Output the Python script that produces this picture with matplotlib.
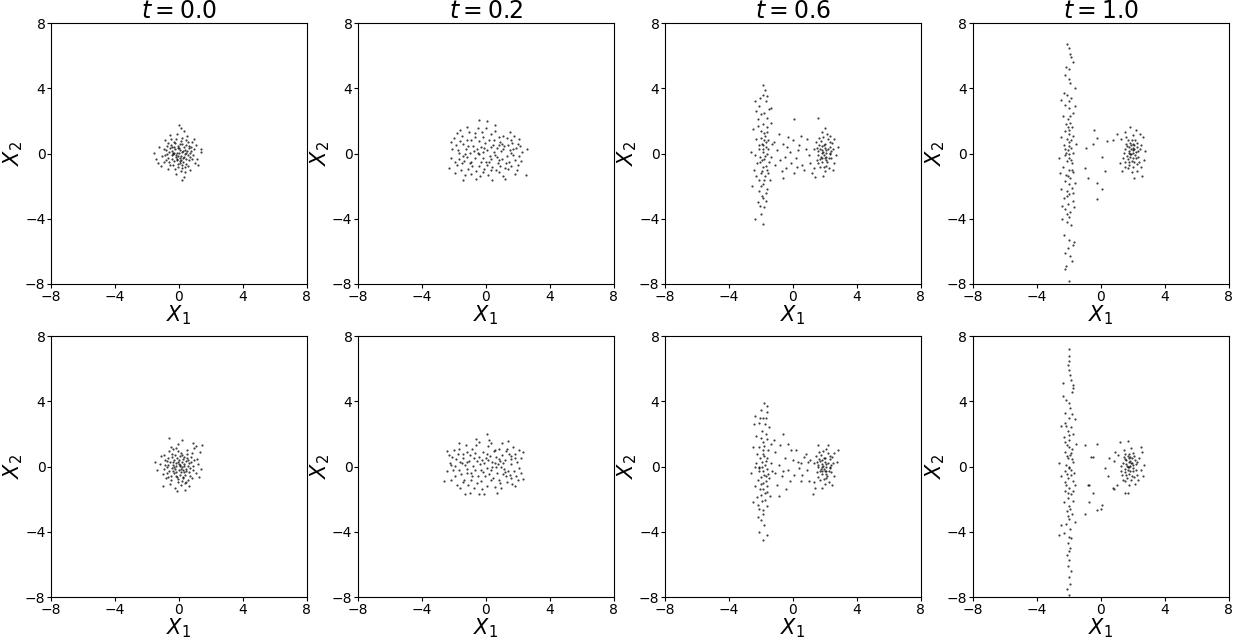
import numpy as np
import matplotlib
matplotlib.use('Agg')
import matplotlib.pyplot as plt

# Χρόνοι και θέσεις σημείων (X1, X2) για κάθε γράφημα, διαβασμένα από την εικόνα
times = [0.0, 0.2, 0.6, 1.0]
ticks = [-8, -4, 0, 4, 8]

top_t00 = np.array([
    (-0.12, 0.05), (0.31, -0.22), (-0.45, 0.38), (0.08, 0.61), (0.52, 0.14), (-0.67, -0.29), (0.19, -0.71), (-0.28, -0.48), (0.74, 0.42), (-0.05, -0.15),
    (0.41, 0.83), (-0.83, 0.21), (0.02, 0.33), (-0.36, 0.02), (0.63, -0.41), (-0.54, -0.72), (0.27, 0.18), (-0.18, 0.91), (0.88, -0.09), (-0.95, -0.55),
    (0.13, -0.38), (-0.22, -0.95), (0.47, 0.51), (-0.71, 0.64), (0.36, -0.05), (-0.09, 0.47), (0.58, -0.78), (-0.42, -0.12), (0.95, 0.27), (-0.31, 0.72),
    (0.06, -0.58), (-0.61, 0.11), (0.22, 0.95), (-1.08, -0.18), (0.69, 0.06), (-0.15, -0.33), (0.33, 0.39), (-0.48, 0.55), (1.12, -0.31), (0.11, -1.05),
    (-0.26, 0.26), (0.44, -0.62), (-0.79, -0.41), (0.17, 0.12), (-0.03, -0.82), (0.81, 0.68), (-0.57, 0.35), (0.28, -0.27), (-1.25, 0.42), (0.52, 1.05),
    (-0.38, -0.68), (0.04, 0.19), (0.62, 0.31), (-0.19, -0.21), (0.99, -0.58), (-0.88, 0.82), (0.38, -1.12), (-0.11, 1.22), (0.71, -0.19), (-0.66, -0.92),
    (0.21, 0.58), (-0.44, -0.31), (1.35, 0.08), (-0.29, 0.06), (0.09, -0.45), (-0.73, -0.05), (0.56, 0.72), (-0.01, 0.02), (0.35, 0.22), (-1.42, -0.35),
    (0.15, -0.17), (-0.52, 0.91), (0.84, -0.35), (-0.21, -1.25), (0.46, 0.02), (-0.93, 0.25), (0.29, 1.38), (-0.07, -0.62), (0.67, -1.01), (-0.34, 0.42),
    (1.05, 0.55), (-0.62, -0.52), (0.12, 0.75), (-0.16, -0.07), (0.39, -0.85), (-1.15, -0.78), (0.78, 0.18), (-0.46, 0.18), (0.25, -0.52), (0.01, 1.72),
    (-0.85, -0.12), (0.55, -0.12), (-0.24, 0.62), (1.22, -0.72), (-0.58, 1.12), (0.18, -0.91), (-0.05, 0.35), (0.92, 0.92), (-1.55, 0.05), (0.32, -1.45),
    (-0.4, -0.02), (0.07, -0.25), (0.6, 0.45), (-0.75, 0.48), (0.14, 1.58), (0.18, -1.65), (-1.3, -0.6), (1.4, 0.3), (-0.1, -0.4), (0.45, -0.35),
])

bot_t00 = np.array([
    (0.05, 0.12), (-0.33, 0.41), (0.27, -0.18), (-0.61, -0.26), (0.48, 0.55), (-0.14, -0.63), (0.72, -0.08), (-0.42, 0.77), (0.16, 0.29), (-0.88, 0.09),
    (0.39, -0.49), (-0.07, 0.95), (0.91, 0.38), (-0.25, -0.14), (0.57, -0.84), (-0.69, 0.52), (0.11, -0.32), (-0.51, -0.81), (0.82, 0.81), (-0.18, 0.22),
    (0.34, 0.05), (-1.02, -0.44), (0.63, 0.22), (-0.03, -0.97), (0.21, 0.68), (-0.76, -0.02), (0.47, -0.27), (-0.36, 0.08), (1.08, -0.41), (-0.12, 0.52),
    (0.26, -0.72), (-0.57, 0.29), (0.74, 0.61), (-0.94, 0.71), (0.08, 0.01), (-0.29, -0.42), (0.53, 1.02), (-0.47, -0.59), (1.21, 0.14), (0.02, -0.21),
    (-0.21, 1.15), (0.41, 0.35), (-0.83, -0.71), (0.15, -1.12), (-0.01, 0.41), (0.68, -0.55), (-0.63, 0.97), (0.31, 0.15), (-1.21, 0.18), (0.89, -0.22),
    (-0.39, -0.25), (0.12, 0.82), (0.58, 0.04), (-0.16, -0.36), (0.97, 1.12), (-0.72, -0.37), (0.36, -1.01), (-0.09, 1.38), (0.79, -0.68), (-0.55, -1.05),
    (0.24, 0.45), (-0.45, 0.61), (1.39, -0.15), (-0.31, -0.02), (0.07, -0.52), (-0.78, 0.35), (0.49, 0.79), (0.03, 0.18), (0.32, -0.31), (-1.38, -0.21),
    (0.19, -0.05), (-0.52, 1.21), (0.85, 0.05), (-0.24, -1.32), (0.44, -0.12), (-0.96, -0.15), (0.22, 1.62), (-0.06, -0.75), (0.64, -1.18), (-0.37, 0.31),
    (1.12, 0.48), (-0.66, -0.61), (0.09, 0.63), (-0.19, 0.05), (0.42, -0.92), (-1.12, 0.62), (0.76, 0.28), (-0.41, -0.11), (0.28, -0.61), (-0.6, 1.75),
    (-0.87, 0.42), (0.55, 0.42), (-0.27, 0.72), (1.25, -0.62), (-0.13, -1.48), (0.17, -0.88), (-0.04, 0.28), (1.05, 1.28), (-1.48, 0.28), (0.38, -1.42),
    (1.45, 1.32), (0.88, 1.45), (-0.35, 1.05), (0.6, -0.35), (-0.7, 0.1), (0.1, -0.15), (0.3, 0.6), (-0.2, -0.6), (1.3, 0.9), (-1.0, -1.2),
])

top_t02 = np.array([
    (-2.1, 0.3), (-1.8, -0.7), (-1.5, 1.1), (-1.2, -0.2), (-0.9, 0.8), (-0.6, -1.1), (-0.3, 0.4), (0.0, -0.5), (0.3, 1.2), (0.6, -0.1),
    (0.9, 0.7), (1.2, -0.9), (1.5, 0.2), (1.8, -0.4), (2.1, 0.9), (-1.95, -1.2), (-1.65, 0.05), (-1.35, -0.45), (-1.05, 1.35), (-0.75, 0.15),
    (-0.45, -0.75), (-0.15, 1.0), (0.15, -1.3), (0.45, 0.55), (0.75, -0.6), (1.05, 1.05), (1.35, -0.15), (1.65, 0.65), (1.95, -1.0), (2.25, 0.1),
    (-2.0, 0.95), (-1.7, -0.35), (-1.4, 0.6), (-1.1, -0.95), (-0.8, 0.45), (-0.5, 1.55), (-0.2, -0.25), (0.1, 0.2), (0.4, -0.85), (0.7, 0.35),
    (1.0, -0.35), (1.3, 0.95), (1.6, -0.75), (1.9, 0.35), (2.2, -0.45), (-1.85, 0.55), (-1.55, -1.0), (-1.25, 0.25), (-0.95, -0.5), (-0.65, 1.0),
    (-0.35, -1.35), (-0.05, 0.65), (0.25, -0.15), (0.55, 1.4), (0.85, -1.15), (1.15, 0.45), (1.45, -0.5), (1.75, 1.1), (2.05, -0.15), (-2.2, -0.25),
    (-1.6, 1.45), (-1.3, -1.3), (-1.0, 0.05), (-0.7, -0.3), (-0.4, 0.75), (-0.1, -0.95), (0.2, 0.85), (0.5, 0.1), (0.8, -0.4), (1.1, -1.4),
    (1.4, 0.55), (1.7, -0.1), (2.0, 0.6), (-1.75, 0.2), (-1.45, -0.15), (-1.15, 0.85), (-0.85, -0.75), (-0.55, 0.3), (-0.25, 1.3), (0.05, -0.7),
    (0.35, 0.4), (0.65, -1.0), (0.95, 0.15), (1.25, -0.6), (1.55, 0.85), (1.85, -1.25), (2.15, 0.45), (-1.9, -0.5), (-1.6, 0.75), (-1.3, 0.0),
    (-1.0, -0.6), (-0.7, 1.25), (-0.4, -0.05), (-0.1, 0.35), (0.2, -0.55), (0.5, 0.8), (0.8, 1.0), (1.1, 0.25), (1.4, -0.95), (1.7, 0.3),
    (-2.15, 0.7), (-1.5, -0.6), (-0.9, -1.25), (-0.3, -0.55), (0.3, -1.0), (0.9, -0.75), (1.5, 1.3), (2.0, -0.7), (-1.2, 1.6), (0.0, 1.55),
    (0.6, 1.75), (-0.6, -1.55), (1.2, -1.55), (-1.8, 1.25), (2.5, -1.3), (2.6, 0.3), (-2.3, -0.9), (0.1, 2.0), (-0.4, 2.05), (0.4, -1.6),
    (-1.4, -1.6), (0.85, 0.5), (-0.15, 0.1), (0.35, -0.35), (-0.5, 0.05), (1.0, 0.6), (-1.1, 0.45), (0.7, -0.2), (-0.2, -1.15), (1.6, 0.05),
])

bot_t02 = np.array([
    (-2.4, -0.3), (-2.1, 0.6), (-1.8, -1.1), (-1.5, 0.2), (-1.2, 0.9), (-0.9, -0.4), (-0.6, 1.3), (-0.3, -0.9), (0.0, 0.5), (0.3, -0.2),
    (0.6, 1.0), (0.9, -1.0), (1.2, 0.4), (1.5, -0.5), (1.8, 0.8), (2.1, -0.1), (-2.25, 0.25), (-1.95, -0.55), (-1.65, 1.05), (-1.35, -0.8),
    (-1.05, 0.35), (-0.75, -1.3), (-0.45, 0.6), (-0.15, -0.35), (0.15, 1.25), (0.45, -0.7), (0.75, 0.15), (1.05, -0.45), (1.35, 1.1), (1.65, -1.05),
    (1.95, 0.3), (-2.0, 1.0), (-1.7, -0.2), (-1.4, 0.55), (-1.1, -1.15), (-0.8, 0.05), (-0.5, -0.55), (-0.2, 0.9), (0.1, -1.2), (0.4, 0.3),
    (0.7, -0.4), (1.0, 0.7), (1.3, -0.95), (1.6, 0.15), (1.9, -0.6), (2.2, 0.55), (-2.15, -0.85), (-1.85, 0.45), (-1.55, -0.45), (-1.25, 1.35),
    (-0.95, -0.85), (-0.65, 0.85), (-0.35, 0.15), (-0.05, -0.6), (0.25, 0.65), (0.55, -1.25), (0.85, 0.45), (1.15, -0.15), (1.45, 0.75), (1.75, -0.3),
    (2.05, 1.0), (-2.3, 0.7), (-1.6, -1.3), (-1.3, 0.1), (-1.0, 0.7), (-0.7, -0.2), (-0.4, 1.5), (-0.1, 0.25), (0.2, -0.45), (0.5, 0.95),
    (0.8, -0.8), (1.1, 0.2), (1.4, -0.25), (1.7, 1.2), (2.0, -0.85), (-1.9, 0.05), (-1.45, 0.8), (-1.15, -0.4), (-0.85, 1.1), (-0.55, -1.0),
    (-0.25, 0.4), (0.05, -0.1), (0.35, 1.45), (0.65, -0.05), (0.95, -1.3), (1.25, 0.95), (1.55, -0.7), (1.85, 0.5), (2.2, -0.4), (-2.05, -0.2),
    (-1.75, 0.75), (-1.45, -0.95), (-1.15, 0.3), (-0.85, -0.55), (-0.55, 0.35), (-0.25, -1.35), (0.05, 0.8), (0.35, -0.8), (0.65, 0.6), (0.95, 0.0),
    (1.25, -0.6), (1.55, 0.45), (1.85, -1.2), (-2.6, -0.9), (-2.45, 0.95), (-0.6, 1.7), (0.2, 1.65), (1.0, 1.45), (-1.0, -1.6), (-0.1, -1.7),
    (0.7, -1.6), (-1.7, 1.45), (2.3, 0.9), (2.3, -0.75), (0.1, 2.0), (-1.3, -1.7), (1.4, 1.55), (-0.45, -1.7), (0.4, -0.05), (-0.75, 0.55),
    (0.9, 0.35), (-1.6, 0.3), (1.2, -0.35), (-0.3, -0.2), (0.6, 0.25), (-1.2, -0.15), (0.15, 0.4), (1.6, 0.65), (-2.2, 0.1), (0.8, 1.1),
])

top_t06 = np.array([
    # αριστερή ομάδα
    (-1.9, 3.6), (-1.7, 3.2), (-2.1, 2.9), (-1.8, 2.5), (-1.5, 2.7), (-2.2, 2.1), (-1.9, 1.8), (-1.6, 1.6), (-2.0, 1.4), (-1.75, 1.1),
    (-2.3, 0.9), (-1.55, 0.8), (-1.95, 0.6), (-1.7, 0.4), (-2.15, 0.25), (-1.85, 0.1), (-1.6, -0.05), (-2.05, -0.2), (-1.8, -0.35), (-1.5, -0.5),
    (-2.25, -0.6), (-1.9, -0.8), (-1.65, -1.0), (-2.0, -1.2), (-1.75, -1.4), (-2.1, -1.6), (-1.85, -1.9), (-1.6, -2.2), (-1.95, -2.6), (-2.2, -3.0),
    (-1.8, -3.3), (-2.0, -3.7), (-1.9, -4.3), (-2.4, -4.0), (-1.7, -2.9), (-2.5, 1.5), (-2.45, -1.0), (-1.4, 1.9), (-1.35, -0.2), (-1.45, -1.6),
    (-1.9, 4.2), (-1.75, 3.9), (-2.05, 3.4), (-2.3, 2.6), (-1.6, 2.2), (-2.0, 2.4), (-1.8, 1.25), (-2.2, 1.7), (-1.7, 0.7), (-2.0, 0.95),
    (-1.9, 0.3), (-2.35, -0.1), (-1.75, -0.15), (-1.55, 0.3), (-2.05, -0.55), (-1.7, -0.75), (-1.95, -1.05), (-2.3, -1.35), (-1.55, -1.2), (-1.8, -1.65),
    (-2.0, -2.0), (-1.7, -2.45), (-2.1, -2.3), (-1.85, -2.75), (-2.05, -3.2), (-1.85, 0.5), (-2.1, 0.55), (-1.65, 1.35), (-1.95, -0.4), (-1.8, 0.85),
    (-2.6, 0.1), (-2.55, -2.0), (-1.3, 0.6), (-1.4, 2.8), (-2.4, 3.2), (-1.6, 3.5),
    # δεξιά ομάδα
    (1.9, 0.1), (2.1, -0.2), (1.7, 0.3), (2.3, 0.4), (1.8, -0.5), (2.0, 0.6), (1.6, -0.1), (2.4, -0.3), (1.95, -0.8), (2.2, 0.9),
    (1.75, 0.75), (2.05, 0.2), (1.85, -0.3), (2.15, -0.55), (1.65, 0.5), (2.35, 0.05), (1.5, -0.4), (2.5, 0.3), (1.9, 1.0), (2.0, -1.1),
    (1.7, -0.8), (2.25, -0.9), (1.55, 0.15), (2.45, 0.65), (1.8, 0.45), (2.1, 0.05), (1.95, -0.1), (2.3, -0.05), (1.6, -0.6), (2.0, 0.35),
    (1.85, 0.2), (2.2, 0.3), (1.75, -0.2), (2.05, -0.4), (1.45, 0.7), (2.55, -0.6), (1.9, -1.35), (2.15, 1.2), (1.35, -0.9), (2.6, 0.9),
    (1.8, 0.05), (2.0, -0.25), (2.3, 0.7), (1.65, 0.95), (1.95, 0.55), (2.1, -0.75), (1.7, -0.35), (2.4, 0.15), (1.5, 0.35), (2.25, -0.3),
    (1.2, -1.2), (1.4, -1.45), (2.7, -0.1), (2.5, -1.0), (1.3, 0.3), (2.8, 0.4), (1.85, 1.3), (2.35, 1.05),
    # ενδιάμεσα σημεία
    (-1.0, 0.2), (-0.8, -0.4), (-0.6, 0.6), (-0.4, -0.9), (-0.2, 0.1), (0.0, 0.8), (0.2, -0.3), (0.4, 0.5), (0.6, -0.7), (0.8, 0.3),
    (1.0, -0.1), (-0.9, 1.2), (-0.7, -1.1), (-0.3, 1.0), (0.1, -1.2), (0.5, 1.1), (0.9, 0.9), (1.1, -0.6), (-1.1, -0.7), (-0.5, -0.2),
    (0.3, 0.2), (-0.1, -0.6), (0.7, -1.0), (-1.2, 0.7), (0.1, 2.1), (1.6, 2.2), (-0.6, -1.5), (2.0, 1.55), (0.25, -0.85), (-0.35, 0.4),
])

bot_t06 = np.array([
    # αριστερή ομάδα
    (-1.8, 3.9), (-1.6, 3.7), (-2.0, 3.5), (-2.4, 3.1), (-1.7, 3.0), (-2.1, 2.7), (-1.5, 2.4), (-1.95, 2.2), (-2.3, 1.9), (-1.65, 1.7),
    (-1.9, 1.5), (-2.15, 1.2), (-1.55, 1.0), (-1.85, 0.8), (-2.05, 0.55), (-1.7, 0.35), (-2.3, 0.2), (-1.95, 0.0), (-1.6, -0.15), (-2.1, -0.3),
    (-1.8, -0.5), (-1.5, -0.7), (-2.2, -0.85), (-1.9, -1.0), (-1.65, -1.2), (-2.05, -1.4), (-1.75, -1.6), (-2.25, -1.85), (-1.95, -2.1), (-1.6, -2.4),
    (-2.1, -2.6), (-1.85, -2.9), (-2.0, -3.3), (-1.8, -3.6), (-2.1, -4.0), (-1.9, -4.5), (-1.6, -4.2), (-2.6, -0.4), (-2.5, 1.2), (-1.3, -0.3),
    (-1.35, 1.4), (-1.45, -1.8), (-2.45, 2.6), (-2.5, -2.2), (-1.7, 2.0), (-2.0, 1.75), (-1.8, 1.25), (-2.25, 0.75), (-1.6, 0.55), (-1.95, 0.3),
    (-1.75, 0.1), (-2.15, -0.1), (-1.85, -0.25), (-1.55, -0.45), (-2.0, -0.65), (-1.7, -0.9), (-2.35, -1.2), (-1.85, -1.35), (-1.6, -1.55), (-2.0, -1.75),
    (-1.75, -2.05), (-2.2, -2.35), (-1.9, -2.65), (-1.75, 2.6), (-2.05, 2.95), (-1.9, 1.0), (-2.1, 0.0), (-1.7, -0.6), (-1.4, 0.2), (-2.4, -0.05),
    (-1.8, 0.65), (-2.0, -1.05), (-1.65, 3.35), (-1.9, 3.0), (-2.2, -3.1),
    # δεξιά ομάδα
    (1.9, 0.05), (2.1, -0.25), (1.7, 0.35), (2.3, 0.45), (1.8, -0.45), (2.0, 0.55), (1.6, -0.05), (2.4, -0.35), (1.95, -0.75), (2.2, 0.85),
    (1.75, 0.7), (2.05, 0.15), (1.85, -0.25), (2.15, -0.6), (1.65, 0.45), (2.35, 0.0), (1.5, -0.35), (2.5, 0.25), (1.9, 0.95), (2.0, -1.05),
    (1.7, -0.85), (2.25, -0.95), (1.55, 0.1), (2.45, 0.6), (1.8, 0.4), (2.1, 0.0), (1.95, -0.15), (2.3, -0.1), (1.6, -0.65), (2.0, 0.3),
    (1.85, 0.15), (2.2, 0.25), (1.75, -0.15), (2.05, -0.45), (1.45, 0.65), (2.55, -0.55), (1.85, -1.3), (2.1, 1.1), (1.3, -0.95), (2.6, 0.85),
    (1.8, 0.0), (2.0, -0.3), (2.3, 0.65), (1.65, 0.9), (1.95, 0.5), (2.1, -0.7), (1.7, -0.3), (2.4, 0.1), (1.5, 0.3), (2.25, -0.25),
    (1.3, 0.2), (2.75, 0.3), (2.45, -1.1), (1.4, -1.3), (1.6, 1.3), (2.8, 1.0), (1.25, -1.7), (2.2, 1.35),
    # ενδιάμεσα σημεία
    (-1.1, 0.9), (-0.9, 0.1), (-0.7, -0.6), (-0.5, 0.5), (-0.3, -0.2), (-0.1, 1.0), (0.1, -0.5), (0.3, 0.3), (0.5, -0.9), (0.7, 0.6),
    (0.9, -0.2), (1.1, 0.4), (-1.0, -1.1), (-0.8, 1.3), (-0.6, -0.3), (-0.4, -1.4), (0.0, 0.4), (0.2, 1.0), (0.4, -0.1), (0.6, -0.5),
    (-1.2, 1.6), (-0.2, -0.9), (0.8, 0.8), (-0.9, -1.8), (-0.3, 1.4), (1.0, -0.9), (-1.1, -0.4), (0.5, 0.2), (0.95, 0.3), (-0.6, 2.0),
])

top_t10 = np.array([
    # αριστερή ομάδα
    (-2.1, 6.7), (-1.95, 6.5), (-1.9, 6.1), (-1.75, 5.6), (-2.15, 5.3), (-1.95, 5.2), (-2.0, 4.6), (-1.9, 4.3), (-2.3, 3.7), (-2.1, 3.6),
    (-1.85, 3.4), (-2.2, 3.0), (-1.95, 2.8), (-1.75, 2.5), (-2.35, 2.3), (-2.05, 2.1), (-1.9, 1.9), (-2.15, 1.8), (-1.8, 1.6), (-2.25, 1.4),
    (-2.0, 1.2), (-1.7, 1.1), (-2.1, 0.9), (-1.95, 0.7), (-2.3, 0.5), (-1.85, 0.35), (-2.05, 0.2), (-1.75, 0.05), (-2.2, -0.1), (-1.95, -0.25),
    (-2.1, -0.45), (-1.8, -0.6), (-2.35, -0.8), (-2.0, -1.0), (-1.7, -1.15), (-2.15, -1.3), (-1.9, -1.5), (-2.25, -1.7), (-2.0, -1.9), (-1.8, -2.1),
    (-2.1, -2.3), (-1.95, -2.5), (-2.3, -2.7), (-1.75, -2.9), (-2.05, -3.1), (-2.2, -3.4), (-1.9, -3.6), (-2.0, -3.9), (-2.4, -4.0), (-2.1, -4.2),
    (-1.85, -4.4), (-1.95, -5.3), (-1.75, -5.6), (-2.05, -5.8), (-2.2, -6.1), (-1.9, -6.3), (-1.8, -6.6), (-2.15, -6.9), (-2.25, -7.1), (-1.95, -7.8),
    (-2.55, -1.2), (-2.6, -0.3), (-1.55, 0.6), (-1.6, -1.8), (-2.45, 1.0), (-1.6, 2.9), (-2.5, 3.3), (-1.65, -3.3), (-2.45, -2.2), (-1.6, 4.0),
    (-2.0, 0.45), (-2.15, 0.05), (-1.85, -0.4), (-1.95, 1.45), (-2.05, -1.4), (-1.9, 2.3), (-2.1, -2.6), (-1.85, 0.8), (-2.0, 3.2), (-2.1, -3.7),
    (-1.8, -1.0), (-2.25, 0.3), (-1.95, -0.05), (-2.05, 1.6), (-1.7, -2.4), (-2.2, 4.8), (-1.85, 5.9), (-2.4, -3.2), (-1.65, -5.4), (-2.3, -5.0),
    # δεξιά ομάδα
    (1.85, 0.0), (2.05, 0.2), (1.65, -0.15), (2.2, -0.3), (1.75, 0.4), (1.95, -0.45), (2.35, 0.15), (1.55, 0.25), (2.1, 0.55), (1.8, -0.7),
    (2.25, 0.65), (1.7, -0.35), (2.0, 0.05), (1.9, 0.3), (2.15, -0.1), (1.6, 0.6), (2.4, -0.5), (1.5, -0.5), (2.3, 0.4), (1.95, 0.8),
    (2.05, -0.8), (1.85, -0.2), (1.75, 0.15), (2.0, -0.25), (2.2, 0.1), (1.65, 0.45), (2.1, -0.55), (1.9, 0.5), (1.8, 0.05), (2.0, 0.35),
    (2.45, 0.3), (1.45, 0.05), (2.35, -0.2), (1.7, -0.9), (2.15, 0.85), (1.6, 1.0), (2.5, -0.8), (2.05, 1.15), (1.4, -0.3), (2.55, 0.55),
    (1.95, -1.15), (2.3, -1.05), (1.9, -0.05), (2.1, 0.25), (1.85, 0.65), (1.75, -0.5), (2.25, -0.65), (1.55, -0.8), (2.0, 0.6), (1.7, 0.8),
    (1.0, 1.2), (0.8, 0.8), (1.2, -0.6), (2.7, -0.4), (2.65, 1.0), (2.6, -1.4), (1.3, 0.9), (1.85, 1.6), (2.2, 1.45), (1.5, 1.35),
    (2.1, -1.5), (2.75, 0.15), (1.35, -1.1), (2.45, 1.2),
    # ενδιάμεσα σημεία
    (-0.4, 1.45), (-0.2, 0.95), (-0.9, 0.35), (0.1, -0.2), (-1.0, -0.9), (-0.8, -1.5), (-0.25, -1.8), (0.1, -2.2), (-0.25, -2.8), (0.25, -1.1),
    (0.4, 0.75), (-0.5, 0.6),
])

bot_t10 = np.array([
    # αριστερή ομάδα
    (-2.0, 7.2), (-2.0, 6.8), (-1.95, 6.5), (-2.05, 6.2), (-2.0, 5.9), (-2.35, 5.1), (-1.85, 5.3), (-1.75, 5.0), (-1.8, 4.6), (-2.15, 4.1),
    (-2.0, 3.9), (-1.9, 3.6), (-2.25, 3.3), (-1.95, 3.0), (-2.2, 2.7), (-1.85, 2.4), (-2.05, 2.2), (-1.75, 2.0), (-2.3, 1.8), (-1.95, 1.6),
    (-2.1, 1.3), (-1.8, 1.1), (-2.2, 0.9), (-1.9, 0.7), (-2.05, 0.5), (-1.7, 0.3), (-2.15, 0.1), (-1.95, -0.1), (-2.25, -0.3), (-1.85, -0.5),
    (-2.05, -0.7), (-2.5, -0.6), (-1.75, -0.9), (-2.15, -1.1), (-1.95, -1.3), (-2.2, -1.5), (-1.85, -1.7), (-2.05, -1.9), (-1.7, -2.1), (-2.3, -2.2),
    (-1.95, -2.4), (-2.1, -2.7), (-1.8, -2.9), (-2.0, -3.2), (-2.15, -3.5), (-1.9, -3.8), (-2.3, -4.1), (-1.85, -4.4), (-2.05, -4.7), (-1.9, -5.0),
    (-2.1, -5.4), (-1.95, -5.7), (-2.05, -6.1), (-1.85, -6.4), (-2.0, -6.8), (-1.9, -7.2), (-2.1, -7.5), (-2.0, -7.9), (-2.6, -4.2), (-2.45, -3.6),
    (-2.5, 2.5), (-1.6, -1.1), (-1.55, 1.4), (-2.35, 4.3), (-1.6, -3.4), (-2.6, 0.2), (-1.6, 2.9), (-1.65, -0.4), (-2.0, 0.0), (-1.85, 0.85),
    (-2.1, -0.45), (-1.95, 1.95), (-2.05, -1.6), (-1.8, 0.45), (-2.15, 2.5), (-1.9, -2.6), (-2.0, 1.2), (-1.75, -1.5), (-2.2, -0.95), (-1.8, 3.2),
    (-2.05, -3.0), (-1.95, -4.3), (-2.25, 1.5), (-1.85, -0.2), (-2.1, 0.65), (-1.7, 4.8), (-2.0, -5.2), (-1.9, 5.6),
    # δεξιά ομάδα
    (1.7, 0.0), (1.9, 0.2), (1.5, -0.15), (2.05, -0.3), (1.6, 0.4), (1.8, -0.45), (2.2, 0.15), (1.4, 0.25), (1.95, 0.55), (1.65, -0.7),
    (2.1, 0.65), (1.55, -0.35), (1.85, 0.05), (1.75, 0.3), (2.0, -0.1), (1.45, 0.6), (2.25, -0.5), (1.35, -0.5), (2.15, 0.4), (1.8, 0.8),
    (1.9, -0.8), (1.7, -0.2), (1.6, 0.15), (1.85, -0.25), (2.05, 0.1), (1.5, 0.45), (1.95, -0.55), (1.75, 0.5), (1.65, 0.05), (1.85, 0.35),
    (2.3, 0.3), (1.3, 0.05), (2.2, -0.2), (1.55, -0.9), (2.0, 0.85), (1.45, 1.0), (2.35, -0.8), (1.9, 1.15), (1.25, -0.3), (2.4, 0.55),
    (1.8, -1.15), (2.15, -1.05), (1.75, -0.05), (1.95, 0.25), (1.7, 0.65), (1.6, -0.5), (2.1, -0.65), (1.4, -0.8), (1.85, 0.6), (1.55, 0.8),
    (2.55, -0.2), (2.7, 0.1), (1.1, 0.7), (0.9, 0.9), (1.0, -1.1), (2.6, 0.9), (1.2, 1.5), (2.5, 1.2), (1.5, -1.6), (1.7, 1.55),
    (0.85, 0.35), (2.65, -0.6),
    # ενδιάμεσα σημεία
    (-0.2, 1.4), (-0.95, 1.35), (-0.6, 0.6), (-0.45, 0.6), (0.5, 0.55), (0.25, -0.1), (0.45, -0.6), (-0.8, -1.15), (-0.7, -1.15), (-0.45, -1.65),
    (-0.75, -2.2), (0.1, -2.35), (-0.25, -2.65), (0.05, -2.6), (-1.0, -2.9), (0.75, -1.3), (0.85, -1.4), (1.7, -1.65),
])

top_row = [top_t00, top_t02, top_t06, top_t10]
bottom_row = [bot_t00, bot_t02, bot_t06, bot_t10]

fig = plt.figure(figsize=(12.36, 6.41), dpi=100)

lefts = [0.0413, 0.2896, 0.538, 0.787]
bottoms = [0.557, 0.0686]
w, h = 0.207, 0.407

for r, row in enumerate([top_row, bottom_row]):
    for c, pts in enumerate(row):
        ax = fig.add_axes([lefts[c], bottoms[r], w, h])
        ax.scatter(pts[:, 0], pts[:, 1], s=2.5, c='black', alpha=0.75, linewidths=0)
        ax.set_xlim(-8, 8)
        ax.set_ylim(-8, 8)
        ax.set_xticks(ticks)
        ax.set_yticks(ticks)
        ax.tick_params(labelsize=10, length=3, pad=1)
        ax.set_xlabel('$X_1$', fontsize=15, labelpad=0)
        ax.set_ylabel('$X_2$', fontsize=15, labelpad=0)
        if r == 0:
            ax.set_title(f'$t = {times[c]:.1f}$', fontsize=17, pad=3)

fig.savefig('out.png', dpi=100)
